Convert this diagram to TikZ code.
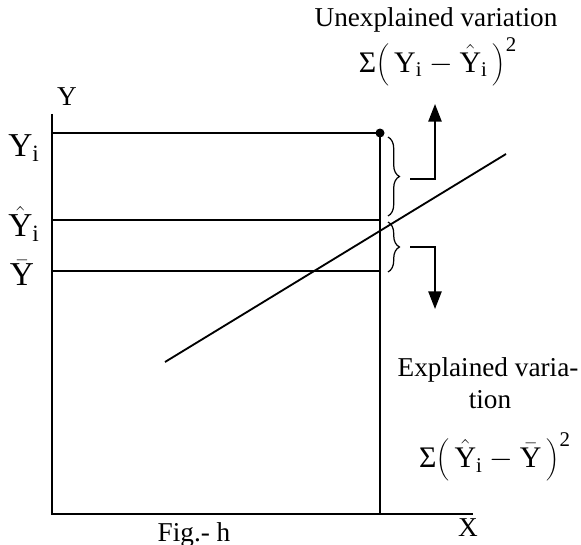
\documentclass[tikz,border=0pt]{standalone}
\usepackage{fontspec}
\setmainfont{Liberation Serif}
\usetikzlibrary{arrows.meta,decorations.pathreplacing}
\tikzset{
  txt/.style={font=\fontsize{15.5}{18}\selectfont, inner sep=0pt},
  formula/.style={font=\fontsize{17}{19}\selectfont, inner sep=0pt},
  ylab/.style={font=\fontsize{19}{21}\selectfont, inner sep=0pt},
  brc/.style={decorate, decoration={brace, amplitude=6.5pt}, line width=0.7pt},
  upshot/.style={-{Triangle[length=10pt,width=7.5pt]}},
}
\begin{document}
\begin{tikzpicture}[x=0.2mm, y=-0.2mm, line cap=butt, line width=1.05pt]
  \useasboundingbox (0,0) rectangle (581,545);
  % Axes.
  \coordinate (O) at (52,514);
  \coordinate (Ytop) at (52,114);
  \coordinate (Xend) at (473,514);
  \draw (Ytop) -- (O) -- (Xend);
  % Observed point and its foot on the X axis.
  \coordinate (P) at (380,133);
  \coordinate (Pfoot) at (380,514);
  \draw (P) -- (Pfoot);
  \fill (P) circle (4.5);
  % Levels Yi, fitted Yi and mean.
  \coordinate (Ai) at (52,133);
  \coordinate (Ah) at (52,220);
  \coordinate (Hh) at (380,220);
  \coordinate (Ab) at (52,271);
  \coordinate (Hb) at (380,271);
  \draw (Ai) -- (P);
  \draw (Ah) -- (Hh);
  \draw (Ab) -- (Hb);
  % Regression line.
  \coordinate (R1) at (165,362);
  \coordinate (R2) at (506,154);
  \draw (R1) -- (R2);
  % Braces.
  \coordinate (B1) at (388,137);
  \coordinate (B2) at (388,216);
  \coordinate (B3) at (388,222);
  \coordinate (B4) at (388,272);
  \draw[brc] (B1) -- (B2);
  \draw[brc] (B3) -- (B4);
  % Leaders to the labels.
  \coordinate (U0) at (410,179);
  \coordinate (U1) at (435,179);
  \coordinate (U2) at (435,104);
  \draw[upshot] (U0) -- (U1) -- (U2);
  \coordinate (E0) at (410,247);
  \coordinate (E1) at (435,247);
  \coordinate (E2) at (435,309);
  \draw[upshot] (E0) -- (E1) -- (E2);
  % Labels.
  \node[txt] (unexp) at (436,20) {Unexplained variation};
  \node[formula] (unexpf) at (438,62) {Σ$\bigg(\,\mathrm{Y}_\mathrm{i}-\hat{\mathrm{Y}}_\mathrm{i}\,\bigg)^{\mathrm{2}}$};
  \node[txt] (exp1) at (488,370) {Explained varia-};
  \node[txt] (exp2) at (490,400) {tion};
  \node[formula] (expf) at (495,457) {Σ$\bigg(\,\hat{\mathrm{Y}}_\mathrm{i}-\bar{\mathrm{Y}}\,\bigg)^{\mathrm{2}}$};
  \node[txt] (ylab) at (67,97) {Y};
  \node[txt] (xlab) at (468,528) {X};
  \node[txt] (fig) at (194,535) {Fig.- h};
  \node[ylab] (yi) at (24,148) {Y$_\mathrm{i}$};
  \node[ylab] (yhat) at (24,224) {$\hat{\mathrm{Y}}_\mathrm{i}$};
  \node[ylab] (ybar) at (22,273) {$\bar{\mathrm{Y}}$};
\end{tikzpicture}
\end{document}
